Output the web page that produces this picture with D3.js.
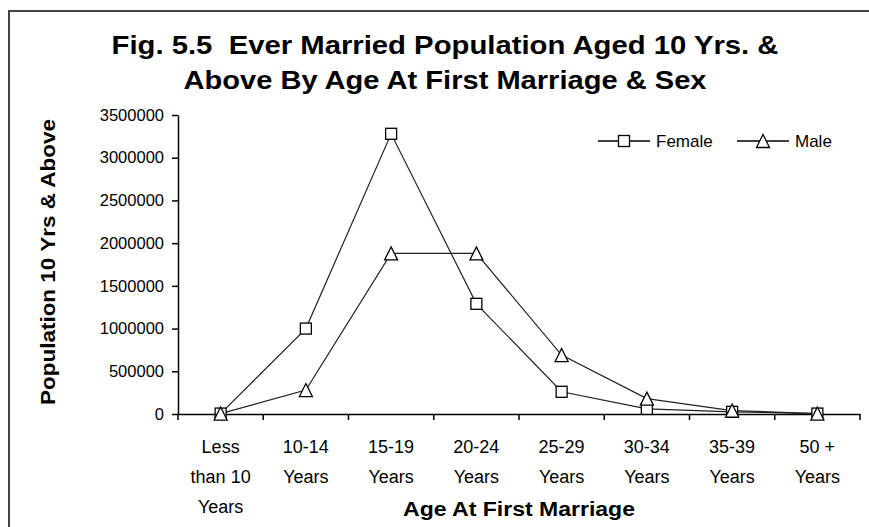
<!DOCTYPE html>
<html><head><meta charset="utf-8">
<script src="https://cdn.jsdelivr.net/npm/d3@7"></script>
<style>body{margin:0;background:#fff}svg{display:block}text{font-family:"Liberation Sans",Arial,sans-serif}</style>
</head><body><svg id="c" width="869" height="527"></svg>
<script>
const categories = [["Less","than 10","Years"],["10-14","Years"],["15-19","Years"],["20-24","Years"],["25-29","Years"],["30-34","Years"],["35-39","Years"],["50 +","Years"]];
const female = [5000, 1000000, 3280000, 1290000, 260000, 60000, 25000, 5000];
const male = [5000, 280000, 1880000, 1880000, 690000, 180000, 40000, 5000];
const yTicks = [0,500000,1000000,1500000,2000000,2500000,3000000,3500000];
const seriesNames = ["Female","Male"];
const titleLines = ["Fig. 5.5\u00a0\u00a0Ever Married Population Aged 10 Yrs. &", "Above By Age At First Marriage & Sex"];

(function(){
const svg = d3.select("#c");
svg.append("rect").attr("x",9).attr("y",11).attr("width",880).attr("height",540)
  .attr("fill","none").attr("stroke","#444").attr("stroke-width",2);

const pL=178, pR=860, pT=115, pB=414;
const x = d3.scaleBand().domain(d3.range(categories.length)).range([pL,pR]);
const y = d3.scaleLinear().domain([0,3500000]).range([pB,pT]);

const tl = [667, 523];
titleLines.forEach((s,i)=>{
  svg.append("text").attr("x",445).attr("y",54+i*35).attr("text-anchor","middle")
    .attr("font-weight","bold").attr("font-size",26)
    .attr("textLength",tl[i]).attr("lengthAdjust","spacingAndGlyphs").text(s);
});

const ya = svg.append("g").attr("transform",`translate(${pL},0)`)
  .call(d3.axisLeft(y).tickValues(yTicks).tickSize(6).tickSizeOuter(0).tickFormat(d3.format("d")));
ya.select(".domain").attr("stroke","#000").attr("stroke-width",1.5);
ya.selectAll(".tick line").attr("stroke","#000").attr("stroke-width",1.5);
ya.selectAll(".tick text").attr("font-size",16.5).attr("font-family","Liberation Sans, Arial").attr("fill","#000").attr("x",-14);

const xa = svg.append("g").attr("transform",`translate(0,${pB})`)
  .call(d3.axisBottom(x).tickSize(0).tickFormat(""));
xa.select(".domain").attr("stroke","#000").attr("stroke-width",1.5);
const boundaries = d3.range(categories.length+1).map(i => pL + i*x.step());
svg.append("g").selectAll("line").data(boundaries).join("line")
  .attr("x1",d=>d).attr("x2",d=>d).attr("y1",pB).attr("y2",pB+6)
  .attr("stroke","#000").attr("stroke-width",1.5);
const lab = svg.append("g").selectAll("text").data(categories).join("text")
  .attr("text-anchor","middle").attr("font-size",18).attr("fill","#000");
lab.each(function(d,i){
  const s=d3.select(this);
  d.forEach((ln,j)=>s.append("tspan").attr("x",x(i)+x.bandwidth()/2).attr("y",453+j*30).text(ln));
});

svg.append("text").attr("x",519).attr("y",516).attr("text-anchor","middle").attr("font-weight","bold").attr("font-size",20)
  .attr("textLength",232).attr("lengthAdjust","spacingAndGlyphs").text("Age At First Marriage");
svg.append("text").attr("transform","translate(55,262) rotate(-90)").attr("text-anchor","middle").attr("font-weight","bold").attr("font-size",20)
  .attr("textLength",286).attr("lengthAdjust","spacingAndGlyphs").text("Population 10 Yrs & Above");

const cx = i => x(i)+x.bandwidth()/2;
const line = d3.line().x((d,i)=>cx(i)).y(d=>y(d));
[female, male].forEach(s=>{
  svg.append("path").datum(s).attr("d",line).attr("fill","none").attr("stroke","#222").attr("stroke-width",1.2);
});
const sq=11, tri=13;
svg.append("g").selectAll("rect").data(female).join("rect")
  .attr("x",(d,i)=>cx(i)-sq/2).attr("y",d=>y(d)-sq/2).attr("width",sq).attr("height",sq)
  .attr("fill","#fff").attr("stroke","#000").attr("stroke-width",1.3);
const triPath = (px,py)=>`M${px},${py-tri/2}L${px+tri/2},${py+tri/2}L${px-tri/2},${py+tri/2}Z`;
svg.append("g").selectAll("path").data(male).join("path")
  .attr("d",(d,i)=>triPath(cx(i),y(d))).attr("fill","#fff").attr("stroke","#000").attr("stroke-width",1.3);

const lg = svg.append("g");
const items=[{name:seriesNames[0],x0:598,shape:"sq"},{name:seriesNames[1],x0:737,shape:"tri"}];
items.forEach(it=>{
  const ly=141;
  lg.append("line").attr("x1",it.x0).attr("x2",it.x0+52).attr("y1",ly).attr("y2",ly).attr("stroke","#000").attr("stroke-width",1.5);
  if(it.shape==="sq") lg.append("rect").attr("x",it.x0+26-sq/2).attr("y",ly-sq/2).attr("width",sq).attr("height",sq).attr("fill","#fff").attr("stroke","#000").attr("stroke-width",1.3);
  else lg.append("path").attr("d",triPath(it.x0+26,ly)).attr("fill","#fff").attr("stroke","#000").attr("stroke-width",1.3);
  lg.append("text").attr("x",it.x0+58).attr("y",ly+6).attr("font-size",17).text(it.name);
});
})();
</script></body></html>
